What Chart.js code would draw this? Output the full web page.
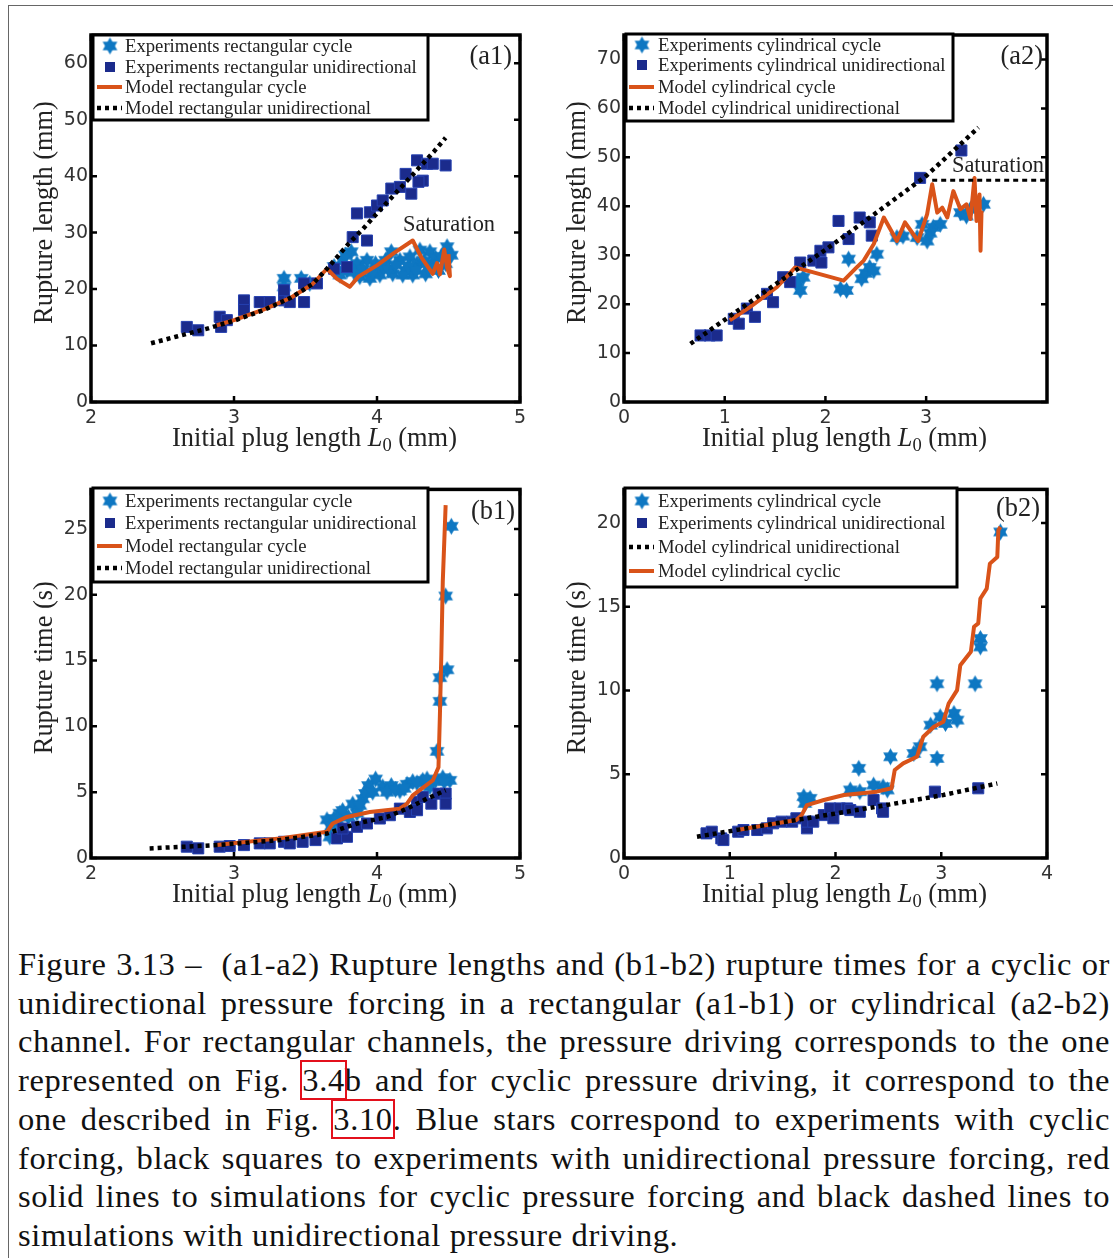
<!DOCTYPE html>
<html>
<head>
<meta charset="utf-8">
<script src="https://cdn.jsdelivr.net/npm/chart.js@4.4.0/dist/chart.umd.min.js"></script>
<style>
html, body { margin: 0; padding: 0; background: #fff; }
body { width: 1116px; height: 1258px; position: relative; overflow: hidden; }
#frame { position: absolute; left: 8px; top: 5px; width: 1104px; height: 1300px;
         border-left: 1px solid #666; border-top: 1px solid #666; }
canvas { position: absolute; }
#caption { position: absolute; left: 18px; top: 945px; width: 1092px;
           font-family: "Liberation Serif", serif; font-size: 33px; letter-spacing: 0.6px;
           line-height: 38.7px; color: #111; }
#caption div { text-align: justify; text-align-last: justify; }
#caption div.last { text-align-last: left; }
.ref { outline: 2px solid #e3101c; outline-offset: 0px; }
</style>
</head>
<body>
<div id="frame"></div>
<canvas id="a1"></canvas>
<canvas id="a2"></canvas>
<canvas id="b1"></canvas>
<canvas id="b2"></canvas>
<div id="caption">
  <div>Figure 3.13 –&nbsp; (a1-a2) Rupture lengths and (b1-b2) rupture times for a cyclic or</div>
  <div>unidirectional pressure forcing in a rectangular (a1-b1) or cylindrical (a2-b2)</div>
  <div>channel. For rectangular channels, the pressure driving corresponds to the one</div>
  <div>represented on Fig. <span class="ref">3.4</span>b and for cyclic pressure driving, it correspond to the</div>
  <div>one described in Fig. <span class="ref">3.10</span>. Blue stars correspond to experiments with cyclic</div>
  <div>forcing, black squares to experiments with unidirectional pressure forcing, red</div>
  <div>solid lines to simulations for cyclic pressure forcing and black dashed lines to</div>
  <div class="last">simulations with unidirectional pressure driving.</div>
</div>
<script>
// ---------- data (x = initial plug length L0 in mm) ----------
// (a1) rupture length, rectangular channel
const a1Stars = [[3.35,21.9],[3.35,20.4],[3.47,21.9],[3.53,21.0],[3.72,23.3],[3.76,25.1],[3.79,23.3],[3.82,26.6],
  [3.86,24.5],[3.88,22.2],[3.93,25.1],[3.95,21.9],[3.99,24.5],[4.02,22.5],[4.06,25.1],[4.10,26.6],[4.11,22.7],
  [4.16,25.1],[4.20,23.3],[4.23,25.7],[4.25,22.5],[4.28,24.5],[4.30,26.9],[4.34,22.7],[4.37,26.6],[4.39,24.5],
  [4.43,23.3],[4.49,27.5],[4.52,26.0],[4.48,24.5],[3.70,24.0],[3.74,22.5],[3.78,26.0],[3.84,23.0],[3.90,23.5],
  [3.97,23.0],[4.04,24.0],[4.08,23.5],[4.13,24.3],[4.18,22.5],[4.22,24.0],[4.27,23.3],[4.33,25.0],[4.36,23.8],
  [4.41,25.5],[4.45,25.8]];
const a1Squares = [[2.67,13.3],[2.75,12.7],[2.90,15.1],[2.95,14.5],[2.91,13.3],[3.07,18.0],[3.07,16.3],[3.18,17.7],
  [3.25,17.7],[3.35,18.0],[3.35,19.8],[3.39,17.7],[3.49,17.7],[3.49,21.0],[3.58,21.0],[3.70,23.6],[3.79,23.9],
  [3.83,29.2],[3.86,33.4],[3.93,28.6],[3.95,33.6],[4.00,34.8],[4.04,35.7],[4.10,37.8],[4.16,38.1],[4.20,40.4],
  [4.24,36.9],[4.28,42.8],[4.32,39.2],[4.35,42.2],[4.39,42.2],[4.48,41.9],[4.29,39.0]];
const a1ModelCycle = [[2.88,13.6],[3.0,14.5],[3.2,16.3],[3.4,18.5],[3.55,20.9],[3.65,23.6],[3.72,21.8],[3.81,20.4],
  [3.87,22.2],[4.0,24.2],[4.12,26.4],[4.25,28.6],[4.31,25.6],[4.39,22.7],[4.42,24.6],[4.44,22.6],[4.47,27.0],
  [4.49,23.8],[4.51,22.3],[4.50,26.2]];
const a1ModelUni = [[2.42,10.4],[2.6,11.6],[2.8,12.9],[3.0,14.4],[3.2,16.2],[3.4,18.5],[3.55,20.9],[3.65,23.6],
  [3.8,28.0],[3.9,30.6],[4.0,33.4],[4.2,38.9],[4.4,44.4],[4.48,46.8]];

// (a2) rupture length, cylindrical channel
const a2Stars = [[1.75,22.8],[1.78,25.5],[1.72,24.5],[2.15,23.1],[2.21,22.8],[2.23,29.2],[2.36,25.2],[2.40,26.3],
  [2.44,27.5],[2.48,26.8],[2.51,30.2],[2.71,33.6],[2.77,33.9],[2.91,33.6],[2.96,36.3],[3.01,32.9],[3.04,34.5],
  [3.07,35.7],[3.14,36.3],[3.34,38.7],[3.40,38.0],[3.44,39.4],[3.57,40.4]];
const a2Squares = [[0.76,13.6],[0.85,13.6],[0.92,13.6],[1.09,17.0],[1.14,16.0],[1.22,19.1],[1.30,17.4],[1.42,22.1],
  [1.48,20.4],[1.58,25.5],[1.65,24.5],[1.75,28.5],[1.88,28.9],[1.95,30.9],[1.96,28.5],[2.03,31.6],[2.13,37.0],
  [2.23,33.3],[2.34,37.7],[2.44,36.7],[2.46,34.0],[2.94,45.8],[3.35,51.4]];
const a2ModelCycle = [[1.05,16.7],[1.25,19.4],[1.52,23.5],[1.70,27.5],[2.18,24.8],[2.31,27.5],[2.38,28.9],[2.48,32.3],
  [2.58,37.7],[2.71,32.9],[2.79,36.7],[2.92,32.9],[3.01,38.4],[3.06,44.5],[3.11,38.7],[3.16,39.7],[3.21,37.7],
  [3.27,43.1],[3.34,39.4],[3.40,40.4],[3.44,37.4],[3.48,45.8],[3.50,37.0],[3.53,42.4],[3.54,30.9],[3.55,39.1]];
const a2ModelUni = [[0.66,11.9],[1.0,16.8],[1.5,24.0],[2.0,31.1],[2.5,38.6],[3.0,46.2],[3.52,56.1]];
const a2Saturation = [[3.06,45.3],[4.2,45.3]];

// (b1) rupture time, rectangular channel
const b1Stars = [[4.52,25.2],[4.48,19.9],[4.49,14.3],[4.44,13.7],[4.44,11.9],[4.42,8.1],[4.51,5.9],[4.46,6.1],
  [3.65,2.9],[3.67,1.6],[3.74,3.4],[3.76,3.6],[3.83,4.1],[3.86,3.4],[3.90,4.5],[3.94,5.5],[3.99,6.0],[4.04,5.4],
  [4.10,5.5],[4.16,5.1],[4.21,5.6],[4.25,5.8],[4.32,5.9],[4.37,5.4],[3.70,3.0],[3.68,2.4],[3.72,2.9],[3.80,3.1],
  [3.88,4.0],[3.92,4.9],[3.97,5.0],[4.07,5.0],[4.13,5.2],[4.19,5.3],[4.28,5.7],[4.35,6.0],[4.41,5.9],[4.47,5.8]];
const b1Squares = [[2.67,0.86],[2.75,0.73],[2.90,0.86],[2.97,0.91],[3.07,0.98],[3.18,1.11],[3.25,1.11],[3.35,1.23],
  [3.39,1.11],[3.48,1.23],[3.57,1.36],[3.72,1.49],[3.79,1.61],[3.76,2.24],[3.86,2.37],[3.93,2.62],[4.02,3.00],
  [4.09,3.25],[4.16,3.75],[4.23,3.50],[4.28,4.26],[4.32,4.63],[4.38,4.13],[4.43,4.89],[4.48,4.89],[4.48,4.13],[4.28,3.63]];
const b1ModelCycle = [[2.88,0.98],[3.32,1.49],[3.65,1.99],[3.69,2.62],[3.79,3.12],[3.95,3.50],[4.16,3.75],[4.21,4.13],
  [4.25,4.76],[4.39,5.89],[4.43,6.90],[4.44,10.9],[4.45,15.5],[4.46,21.0],[4.48,26.8]];
const b1ModelUni = [[2.41,0.73],[2.88,0.98],[3.32,1.36],[3.65,1.86],[3.86,2.62],[4.07,3.12],[4.21,3.75],[4.35,4.51],[4.48,5.14]];

// (b2) rupture time, cylindrical channel
const b2Stars = [[3.56,19.46],[3.37,13.1],[3.37,12.6],[3.32,10.4],[2.96,10.4],[2.96,5.94],[2.90,7.93],[2.99,8.43],
  [3.04,8.03],[3.12,8.63],[3.15,8.23],[2.74,6.24],[2.80,6.64],[2.52,6.04],[2.22,5.35],[2.14,4.06],[2.23,3.96],
  [2.36,4.35],[2.45,4.25],[2.49,4.06],[1.70,3.66],[1.76,3.56],[1.71,3.26]];
const b2Squares = [[0.78,1.47],[0.83,1.57],[0.92,1.17],[0.94,1.07],[1.08,1.57],[1.13,1.67],[1.26,1.67],[1.35,1.77],
  [1.41,2.07],[1.49,2.17],[1.59,2.17],[1.63,2.37],[1.73,1.77],[1.73,2.17],[1.79,2.17],[1.89,2.56],[1.95,2.96],
  [1.98,2.37],[2.04,2.96],[2.11,2.96],[2.14,2.86],[2.23,2.76],[2.36,3.46],[2.44,2.96],[2.45,2.76],[2.94,3.96],[3.35,4.16]];
const b2ModelCycle = [[1.07,1.67],[1.63,2.27],[1.68,2.56],[1.73,3.16],[1.89,3.46],[2.08,3.76],[2.39,3.96],[2.53,4.16],
  [2.56,5.25],[2.64,5.65],[2.77,6.04],[2.83,7.24],[2.93,7.83],[3.02,8.13],[3.07,9.22],[3.15,10.02],[3.18,11.51],
  [3.28,12.31],[3.31,13.80],[3.35,14.0],[3.37,15.49],[3.43,16.08],[3.46,17.57],[3.53,17.97],[3.54,19.56],[3.56,19.76]];
const b2ModelUni = [[0.69,1.27],[1.44,2.07],[2.39,3.06],[3.02,3.76],[3.53,4.45]];

// ---------- styles ----------
const STAR = '#0e77c2', SQUARE = '#1b2b8c', ORANGE = '#d95319';
const SERIF = '"Liberation Serif", serif';

function hexStar(r, color) {
  const c = document.createElement('canvas');
  const s = Math.ceil(r * 2 + 2);
  c.width = c.height = s;
  const g = c.getContext('2d');
  g.fillStyle = color;
  for (const off of [-Math.PI / 2, Math.PI / 2]) {
    g.beginPath();
    for (let k = 0; k < 3; k++) {
      const a = off + k * 2 * Math.PI / 3;
      g.lineTo(s / 2 + r * Math.cos(a), s / 2 + r * Math.sin(a));
    }
    g.closePath();
    g.fill();
  }
  return c;
}
const starImg = hexStar(8.5, STAR);

// fit a font size so that text spans a given width
const mctx = document.createElement('canvas').getContext('2d');
function fitSize(text, width) {
  mctx.font = '20px ' + SERIF;
  return 20 * width / mctx.measureText(text).width;
}
const legendSize = fitSize('Experiments rectangular unidirectional', 292);
const titleSize = fitSize('Initial plug length L0 (mm)', 290);
const tagSize = fitSize('Saturation', 92);

const pts = arr => arr.map(p => ({ x: p[0], y: p[1] }));

// ---------- panels ----------
const panels = [
  { id: 'a1', box: [20, 20, 515, 440], plot: [91, 35, 520, 402], x: [2, 5], y: [0, 65], ystep: 10,
    ytitle: 'Rupture length (mm)', tag: '(a1)', tagPos: [512, 57],
    sat: { text: 'Saturation', x: 449, y: 225 },
    legend: { rect: [93, 35, 428, 120], rows: [46, 67, 87, 108], mx: 110, tx: 125,
      items: [['star', 'Experiments rectangular cycle'], ['square', 'Experiments rectangular unidirectional'],
              ['orange', 'Model rectangular cycle'], ['dots', 'Model rectangular unidirectional']] },
    stars: a1Stars, squares: a1Squares, cyc: a1ModelCycle, uni: a1ModelUni },
  { id: 'a2', box: [555, 20, 507, 440], plot: [624, 35, 1047, 402], x: [0, 4.2], y: [0, 75], ystep: 10,
    ytitle: 'Rupture length (mm)', tag: '(a2)', tagPos: [1043, 57],
    sat: { text: 'Saturation', x: 998, y: 166 },
    legend: { rect: [626, 34, 953, 121], rows: [45, 65, 87, 108], mx: 642, tx: 658,
      items: [['star', 'Experiments cylindrical cycle'], ['square', 'Experiments cylindrical unidirectional'],
              ['orange', 'Model cylindrical cycle'], ['dots', 'Model cylindrical unidirectional']] },
    stars: a2Stars, squares: a2Squares, cyc: a2ModelCycle, uni: a2ModelUni, extra: a2Saturation },
  { id: 'b1', box: [20, 475, 515, 440], plot: [91, 488, 520, 858], x: [2, 5], y: [0, 28], ystep: 5,
    ytitle: 'Rupture time (s)', tag: '(b1)', tagPos: [515, 512],
    legend: { rect: [93, 488, 428, 582], rows: [501, 523, 546, 568], mx: 110, tx: 125,
      items: [['star', 'Experiments rectangular cycle'], ['square', 'Experiments rectangular unidirectional'],
              ['orange', 'Model rectangular cycle'], ['dots', 'Model rectangular unidirectional']] },
    stars: b1Stars, squares: b1Squares, cyc: b1ModelCycle, uni: b1ModelUni },
  { id: 'b2', box: [555, 475, 507, 440], plot: [624, 488, 1047, 858], x: [0, 4], y: [0, 22], ystep: 5,
    ytitle: 'Rupture time (s)', tag: '(b2)', tagPos: [1040, 509],
    legend: { rect: [625, 488, 957, 587], rows: [501, 523, 547, 571], mx: 642, tx: 658,
      items: [['star', 'Experiments cylindrical cycle'], ['square', 'Experiments cylindrical unidirectional'],
              ['dots', 'Model cylindrical unidirectional'], ['orange', 'Model cylindrical cyclic']] },
    stars: b2Stars, squares: b2Squares, cyc: b2ModelCycle, uni: b2ModelUni }
];

function keepSteps(step) {
  return s => { s.ticks = s.ticks.filter(t => Math.abs(t.value / step - Math.round(t.value / step)) < 1e-6); };
}

function decor(p) {
  const ox = p.box[0], oy = p.box[1];
  return {
    id: 'decor',
    afterDraw(chart) {
      const ctx = chart.ctx, a = chart.chartArea, xs = chart.scales.x, ys = chart.scales.y;
      ctx.save();
      // axes box with inward ticks
      ctx.strokeStyle = '#000';
      ctx.lineWidth = 3.5;
      ctx.strokeRect(a.left, a.top, a.right - a.left, a.bottom - a.top);
      ctx.lineWidth = 2.5;
      ctx.beginPath();
      xs.ticks.forEach(t => {
        const x = xs.getPixelForValue(t.value);
        ctx.moveTo(x, a.bottom); ctx.lineTo(x, a.bottom - 6);
        ctx.moveTo(x, a.top); ctx.lineTo(x, a.top + 6);
      });
      ys.ticks.forEach(t => {
        const y = ys.getPixelForValue(t.value);
        ctx.moveTo(a.left, y); ctx.lineTo(a.left + 6, y);
        ctx.moveTo(a.right, y); ctx.lineTo(a.right - 6, y);
      });
      ctx.stroke();

      // axis titles
      ctx.fillStyle = '#222';
      const big = titleSize.toFixed(1) + 'px ' + SERIF;
      const small = (titleSize * 0.7).toFixed(1) + 'px ' + SERIF;
      const ital = 'italic ' + big;
      const parts = [['Initial plug length ', big, 0], ['L', ital, 0], ['0', small, 5], [' (mm)', big, 0]];
      let tw = 0;
      parts.forEach(q => { ctx.font = q[1]; q.push(ctx.measureText(q[0]).width); tw += q[3]; });
      let x = (a.left + a.right) / 2 + 9 - tw / 2;
      const by = a.bottom + 44;
      ctx.textBaseline = 'alphabetic';
      ctx.textAlign = 'left';
      parts.forEach(q => { ctx.font = q[1]; ctx.fillText(q[0], x, by + q[2]); x += q[3]; });

      ctx.save();
      ctx.translate(a.left - 39, (a.top + a.bottom) / 2 - 6);
      ctx.rotate(-Math.PI / 2);
      ctx.font = big;
      ctx.textAlign = 'center';
      ctx.fillText(p.ytitle, 0, 0);
      ctx.restore();

      // panel tag and saturation note
      ctx.font = big;
      ctx.textAlign = 'right';
      ctx.textBaseline = 'middle';
      ctx.fillText(p.tag, p.tagPos[0] - ox, p.tagPos[1] - oy);
      if (p.sat) {
        ctx.font = tagSize.toFixed(1) + 'px ' + SERIF;
        ctx.textAlign = 'center';
        ctx.fillText(p.sat.text, p.sat.x - ox, p.sat.y - oy);
      }

      // legend box
      const L = p.legend, r = L.rect;
      ctx.fillStyle = '#fff';
      ctx.fillRect(r[0] - ox, r[1] - oy, r[2] - r[0], r[3] - r[1]);
      ctx.strokeStyle = '#000';
      ctx.lineWidth = 3;
      ctx.strokeRect(r[0] - ox, r[1] - oy, r[2] - r[0], r[3] - r[1]);
      ctx.font = legendSize.toFixed(1) + 'px ' + SERIF;
      ctx.textAlign = 'left';
      ctx.textBaseline = 'middle';
      L.items.forEach((it, i) => {
        const y = L.rows[i] - oy, mx = L.mx - ox;
        if (it[0] === 'star') {
          ctx.drawImage(starImg, mx - starImg.width / 2, y - starImg.height / 2);
        } else if (it[0] === 'square') {
          ctx.fillStyle = SQUARE;
          ctx.fillRect(mx - 5, y - 5, 10, 10);
        } else if (it[0] === 'orange') {
          ctx.strokeStyle = ORANGE; ctx.lineWidth = 4; ctx.setLineDash([]);
          ctx.beginPath(); ctx.moveTo(mx - 13, y); ctx.lineTo(mx + 12, y); ctx.stroke();
        } else {
          ctx.strokeStyle = '#000'; ctx.lineWidth = 4.5; ctx.setLineDash([4, 4]);
          ctx.beginPath(); ctx.moveTo(mx - 13, y); ctx.lineTo(mx + 12, y); ctx.stroke();
          ctx.setLineDash([]);
        }
        ctx.fillStyle = '#222';
        ctx.fillText(it[1], L.tx - ox, y + 1);
      });
      ctx.restore();
    }
  };
}

panels.forEach(p => {
  const cv = document.getElementById(p.id);
  const [bx, by, bw, bh] = p.box;
  cv.width = bw; cv.height = bh;
  cv.style.left = bx + 'px'; cv.style.top = by + 'px';
  cv.style.width = bw + 'px'; cv.style.height = bh + 'px';
  const padTop = p.plot[1] - by, padRight = bx + bw - p.plot[2];
  const yw = p.plot[0] - bx, xh = by + bh - p.plot[3];

  const datasets = [
    { data: pts(p.uni), showLine: true, borderColor: '#000', borderWidth: 4.5, borderDash: [4, 4],
      pointRadius: 0, order: 0 },
    { data: pts(p.cyc), showLine: true, borderColor: ORANGE, borderWidth: 4, borderJoinStyle: 'round',
      pointRadius: 0, order: 1 },
    { data: pts(p.squares), pointStyle: 'rect', pointRadius: 7.8, backgroundColor: SQUARE,
      borderColor: '#2540b0', borderWidth: 1, order: 2 },
    { data: pts(p.stars), pointStyle: starImg, pointRadius: 9, order: 3 }
  ];
  if (p.extra) {
    datasets.push({ data: pts(p.extra), showLine: true, borderColor: '#000', borderWidth: 3,
      borderDash: [5, 4], pointRadius: 0, order: 0 });
  }
  const tickFont = { family: '"DejaVu Sans", sans-serif', size: 19 };

  new Chart(cv, {
    type: 'scatter',
    data: { datasets },
    options: {
      responsive: false,
      animation: false,
      layout: { padding: { left: 0, top: padTop, right: padRight, bottom: 0 } },
      plugins: { legend: { display: false }, tooltip: { enabled: false } },
      scales: {
        x: { type: 'linear', min: p.x[0], max: p.x[1],
             grid: { display: false, drawTicks: false }, border: { display: false },
             ticks: { stepSize: 1, padding: 5, color: '#333', font: tickFont, maxRotation: 0, autoSkip: false },
             afterBuildTicks: keepSteps(1), afterFit: s => { s.height = xh; } },
        y: { type: 'linear', min: p.y[0], max: p.y[1],
             grid: { display: false, drawTicks: false }, border: { display: false },
             ticks: { stepSize: p.ystep, padding: 3, color: '#333', font: tickFont, autoSkip: false },
             afterBuildTicks: keepSteps(p.ystep), afterFit: s => { s.width = yw; } }
      }
    },
    plugins: [decor(p)]
  });
});

// keep each caption line on a single line
(function () {
  const cap = document.getElementById('caption');
  let size = 33;
  const lines = [...cap.children];
  while (size > 20 && lines.some(d => d.getBoundingClientRect().height > 45)) {
    size -= 0.5;
    cap.style.fontSize = size + 'px';
  }
})();
</script>
</body>
</html>
